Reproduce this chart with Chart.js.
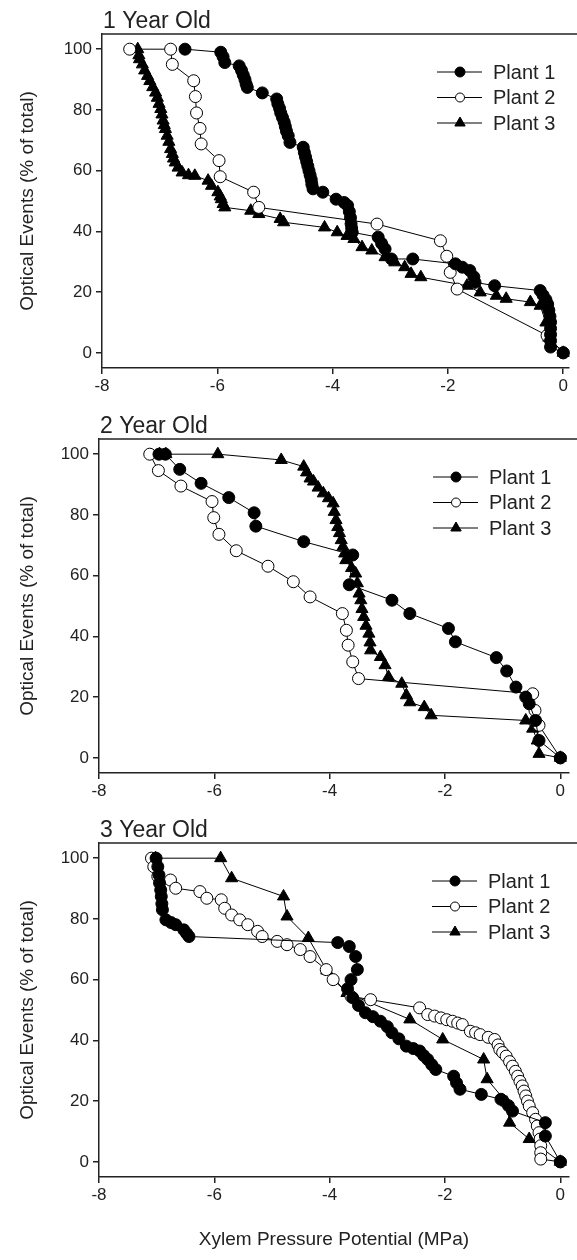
<!DOCTYPE html>
<html>
<head>
<meta charset="utf-8">
<script src="https://cdn.jsdelivr.net/npm/chart.js@4.4.0/dist/chart.umd.min.js"></script>
<style>
body { margin: 0; background: #fff; width: 577px; height: 1260px; position: relative; overflow: hidden; }
.panel { position: absolute; left: 0; width: 577px; }
</style>
</head>
<body>
<div class="panel" style="top:0;height:400px"><canvas id="c1"></canvas></div>
<div class="panel" style="top:400px;height:400px"><canvas id="c2"></canvas></div>
<div class="panel" style="top:800px;height:460px"><canvas id="c3"></canvas></div>
<script>
// tick labels
var xTicks = [-8, -6, -4, -2, 0];
var yTicks = [0, 20, 40, 60, 80, 100];
var plants = ['Plant 1', 'Plant 2', 'Plant 3'];
var panelTitles = ['1 Year Old', '2 Year Old', '3 Year Old'];
var yTitle = 'Optical Events (% of total)';
var xTitle = 'Xylem Pressure Potential (MPa)';

// 1 year old
var y1p1x = [-6.56,-5.94,-5.90,-5.87,-5.62,-5.58,-5.55,-5.52,-5.50,-5.48,-5.22,-4.97,-4.95,-4.92,-4.90,-4.87,-4.84,-4.82,-4.80,-4.77,-4.74,-4.51,-4.49,-4.47,-4.45,-4.43,-4.41,-4.39,-4.37,-4.36,-4.34,-4.17,-3.94,-3.80,-3.74,-3.71,-3.69,-3.68,-3.67,-3.66,-3.21,-3.15,-3.09,-2.98,-2.61,-1.87,-1.75,-1.62,-1.55,-1.53,-1.19,-0.40,-0.35,-0.30,-0.27,-0.25,-0.23,-0.22,-0.22,-0.22,-0.22,-0.22,0];
var y1p1y = [100,99,97.5,95.6,94.5,93,91.5,90,88.5,87.4,85.6,83.6,82,80.5,79,77.5,76,74.5,73,71.5,69.3,67.7,66,64.5,63,61.5,60,58.5,57,55.5,54,52.9,50.6,49.5,48.5,46.5,44.5,42.5,41,39.7,38.1,36,34.2,30.9,30.9,29.3,28.2,27.1,25,23.2,22.1,20.5,19,17.5,16,14,12,10.1,8,6,4,1.9,0];
var y1p2x = [-7.52,-6.81,-6.78,-6.41,-6.38,-6.36,-6.30,-6.28,-5.97,-5.95,-5.37,-5.28,-3.23,-2.13,-2.02,-1.96,-1.84,-0.28,0];
var y1p2y = [100,100,95,89.6,84.4,79,73.9,68.8,63.3,58,52.9,47.9,42.4,36.9,31.8,26.5,21,5.7,0];
var y1p3x = [-7.38,-7.36,-7.35,-7.30,-7.26,-7.21,-7.17,-7.12,-7.07,-7.04,-7.01,-6.98,-6.96,-6.94,-6.92,-6.90,-6.87,-6.84,-6.81,-6.78,-6.76,-6.73,-6.68,-6.61,-6.50,-6.39,-6.16,-6.10,-5.99,-5.95,-5.93,-5.90,-5.87,-5.42,-5.28,-4.91,-4.85,-4.14,-3.92,-3.75,-3.63,-3.49,-3.32,-3.09,-2.92,-2.75,-2.64,-2.47,-1.67,-1.44,-1.16,-0.99,-0.57,-0.40,-0.30,-0.25,0];
var y1p3y = [100,98,96.7,95,93,91.2,89.5,87.5,85.7,84,82,80.3,78.5,76.5,75,73.7,71.5,69.5,67.1,65.5,64,62.7,61,59.4,58.5,58.3,56.7,55,52.9,51.5,50.6,49,47.9,46.8,45.7,44.1,43,41.3,39.7,38.5,37.5,34.8,33.7,31.5,29.8,28.2,26,24.9,22.1,19.9,18.8,17.8,16.7,15.5,10,5,0];

// 2 year old
var y2p1x = [-6.96,-6.85,-6.60,-6.23,-5.75,-5.31,-5.28,-4.45,-3.60,-3.66,-2.92,-2.61,-1.94,-1.82,-1.11,-0.93,-0.77,-0.60,-0.54,-0.43,-0.37,0];
var y2p1y = [100,100,95,90.4,85.7,80.7,76.3,71.2,66.8,57,51.9,47.5,42.6,38.2,33,28.6,23.3,20,17.8,12.3,5.7,0];
var y2p2x = [-7.12,-6.97,-6.58,-6.04,-6.01,-5.92,-5.62,-5.07,-4.63,-4.34,-3.78,-3.71,-3.68,-3.60,-3.50,-0.48,-0.44,-0.37,0];
var y2p2y = [100,94.6,89.5,84.4,79.1,73.6,68.2,63.1,58,53,47.5,42,37.1,31.6,26.1,21.1,15.6,10.7,0];
var y2p3x = [-6.95,-6.84,-5.94,-4.84,-4.45,-4.40,-4.34,-4.28,-4.20,-4.11,-4.02,-3.94,-3.92,-3.89,-3.86,-3.83,-3.80,-3.77,-3.74,-3.72,-3.62,-3.55,-3.52,-3.49,-3.46,-3.44,-3.41,-3.37,-3.32,-3.30,-3.29,-3.12,-3.04,-2.98,-2.75,-2.67,-2.61,-2.36,-2.24,-0.60,-0.48,-0.40,-0.37,0];
var y2p3y = [100,100,100,98.1,95.9,94,92,91,89,87.1,85.5,83.8,81,78.3,76,74,71.7,69.5,67.3,65.1,62.5,60.7,57.5,54.1,51.9,49,46.4,43.5,40.9,38,35.4,33.2,30.5,26.6,24.4,20.6,18.3,16.7,14,12.3,9.6,5.7,1.3,0];

// 3 year old
var y3p1x = [-7.01,-6.98,-6.96,-6.95,-6.93,-6.92,-6.91,-6.90,-6.84,-6.75,-6.67,-6.53,-6.48,-6.44,-3.86,-3.66,-3.55,-3.52,-3.63,-3.69,-3.60,-3.50,-3.38,-3.25,-3.12,-3.00,-2.92,-2.80,-2.67,-2.55,-2.44,-2.37,-2.30,-2.23,-2.16,-1.85,-1.80,-1.74,-1.37,-1.03,-0.90,-0.83,-0.26,-0.26,0];
var y3p1y = [100,97.2,94.5,91.8,89.5,87.4,85,83,79.7,78.8,78.1,76.4,75.2,74.2,72.2,70.9,67.6,63.3,60,57,54,51.5,49.1,47.8,46.3,44.5,42.5,40.5,38.1,37.3,36.5,35,33.7,32,30.4,28.2,26,23.9,22.2,20.6,18.5,16.7,12.9,8.5,0];
var y3p2x = [-7.09,-7.05,-6.98,-6.76,-6.67,-6.25,-6.13,-5.88,-5.82,-5.70,-5.56,-5.42,-5.25,-5.17,-4.91,-4.74,-4.51,-4.34,-4.06,-3.94,-3.63,-3.29,-2.44,-2.30,-2.18,-2.07,-1.97,-1.87,-1.78,-1.70,-1.56,-1.47,-1.39,-1.25,-1.14,-1.08,-1.05,-1.00,-0.94,-0.88,-0.83,-0.78,-0.74,-0.70,-0.66,-0.63,-0.60,-0.57,-0.54,-0.48,-0.43,-0.40,-0.37,-0.35,-0.34,-0.34,-0.34,0];
var y3p2y = [100,97.2,94,92.8,90.1,89,86.8,86.3,83.5,81.3,79.7,78.1,75.9,74.2,72.6,71.5,69.9,67.6,63.3,60,54.5,53.4,50.7,48.5,48,47.4,46.8,46.3,45.7,45.2,43,42.5,41.9,41,40.3,38.5,37,36,34.8,33,31.5,29.8,28.2,26.5,25,23.3,21.7,20,18.4,16.2,14,11.8,9.6,7.5,5.3,3,0.9,0];
var y3p3x = [-7.02,-5.89,-5.70,-4.80,-4.74,-4.37,-4.05,-3.70,-2.61,-2.04,-1.33,-1.27,-0.93,-0.88,-0.54,0];
var y3p3y = [100,100,93.4,87.4,80.8,73.7,63,55.6,46.9,40.3,33.7,27.2,19.5,12.9,7.5,0];

var font = '"Liberation Sans", Arial, sans-serif';
var ink = '#222';

function pts(xs, ys) {
  return xs.map(function (x, i) { return { x: x, y: ys[i] }; });
}

var styles = [
  { pointStyle: 'circle', radius: 6, fill: '#000', legendR: 5 },
  { pointStyle: 'circle', radius: 6, fill: '#fff', legendR: 4.5 },
  { pointStyle: 'triangle', radius: 7, fill: '#000', legendR: 6 }
];

var decor = {
  id: 'decor',
  afterDraw: function (chart, args, o) {
    var ctx = chart.ctx, a = chart.chartArea;
    ctx.save();
    // top frame line
    ctx.strokeStyle = ink;
    ctx.lineWidth = 1.5;
    ctx.beginPath();
    ctx.moveTo(a.left, a.top);
    ctx.lineTo(chart.width, a.top);
    ctx.stroke();
    // panel title
    ctx.fillStyle = ink;
    ctx.font = '23px ' + font;
    ctx.textAlign = 'left';
    ctx.textBaseline = 'alphabetic';
    ctx.fillText(o.title, a.left + 1, a.top - 6);
    // y title
    ctx.save();
    ctx.translate(28, (a.top + a.bottom) / 2);
    ctx.rotate(-Math.PI / 2);
    ctx.textAlign = 'center';
    ctx.textBaseline = 'middle';
    ctx.font = '19px ' + font;
    ctx.fillText(yTitle, 0, 0);
    ctx.restore();
    if (o.xTitle) {
      ctx.font = '19px ' + font;
      ctx.textAlign = 'center';
      ctx.textBaseline = 'middle';
      ctx.fillText(xTitle, (a.left + a.right) / 2, o.xTitleY);
    }
    // legend
    ctx.lineWidth = 1;
    ctx.textBaseline = 'middle';
    ctx.textAlign = 'left';
    ctx.font = '20px ' + font;
    plants.forEach(function (name, i) {
      var y = a.top + 38 + i * 25.5;
      var s = styles[i];
      ctx.strokeStyle = '#000';
      ctx.beginPath();
      ctx.moveTo(o.lx, y);
      ctx.lineTo(o.lx + 45, y);
      ctx.stroke();
      ctx.fillStyle = s.fill;
      Chart.helpers.drawPoint(ctx, { pointStyle: s.pointStyle, radius: s.legendR, borderWidth: 1, rotation: 0 }, o.lx + 23, y);
      ctx.fillStyle = ink;
      ctx.fillText(name, o.lx + 56, y + 1);
    });
    ctx.restore();
  }
};

function makePanel(id, title, sets, yW, xH, padTop, xMax, lx, withX) {
  var datasets = sets.map(function (d, i) {
    var s = styles[i];
    return {
      label: plants[i],
      data: d,
      showLine: true,
      borderColor: '#000',
      borderWidth: 1,
      pointStyle: s.pointStyle,
      pointRadius: s.radius,
      pointBackgroundColor: s.fill,
      pointBorderColor: '#000',
      pointBorderWidth: 1,
      clip: false
    };
  });
  return new Chart(document.getElementById(id), {
    type: 'scatter',
    data: { datasets: datasets },
    plugins: [decor],
    options: {
      responsive: true,
      maintainAspectRatio: false,
      animation: false,
      layout: { padding: { top: padTop, right: 0, left: 0, bottom: 0 } },
      plugins: {
        legend: { display: false },
        tooltip: { enabled: false },
        decor: { title: title, lx: lx, xTitle: withX, xTitleY: 440 }
      },
      scales: {
        x: {
          type: 'linear', min: -8, max: xMax,
          afterBuildTicks: function (s) { s.ticks = xTicks.map(function (v) { return { value: v }; }); },
          afterFit: function (s) { s.height = xH; },
          ticks: { font: { family: font, size: 17 }, color: ink, padding: 2, maxRotation: 0 },
          grid: { drawOnChartArea: false, tickLength: 6, color: ink, lineWidth: 1.5 },
          border: { color: ink, width: 1.5 }
        },
        y: {
          min: -5, max: 105,
          afterBuildTicks: function (s) { s.ticks = yTicks.map(function (v) { return { value: v }; }); },
          afterFit: function (s) { s.width = yW; },
          ticks: { font: { family: font, size: 17 }, color: ink, padding: 4 },
          grid: { drawOnChartArea: false, tickLength: 6, color: ink, lineWidth: 1.5 },
          border: { color: ink, width: 1.5 }
        }
      }
    }
  });
}

makePanel('c1', panelTitles[0], [pts(y1p1x, y1p1y), pts(y1p2x, y1p2y), pts(y1p3x, y1p3y)], 102, 32, 34, 0.1, 437, false);
makePanel('c2', panelTitles[1], [pts(y2p1x, y2p1y), pts(y2p2x, y2p2y), pts(y2p3x, y2p3y)], 99, 27, 39, 0.15, 433, false);
makePanel('c3', panelTitles[2], [pts(y3p1x, y3p1y), pts(y3p2x, y3p2y), pts(y3p3x, y3p3y)], 99, 83, 43, 0.15, 432, true);
</script>
</body>
</html>
